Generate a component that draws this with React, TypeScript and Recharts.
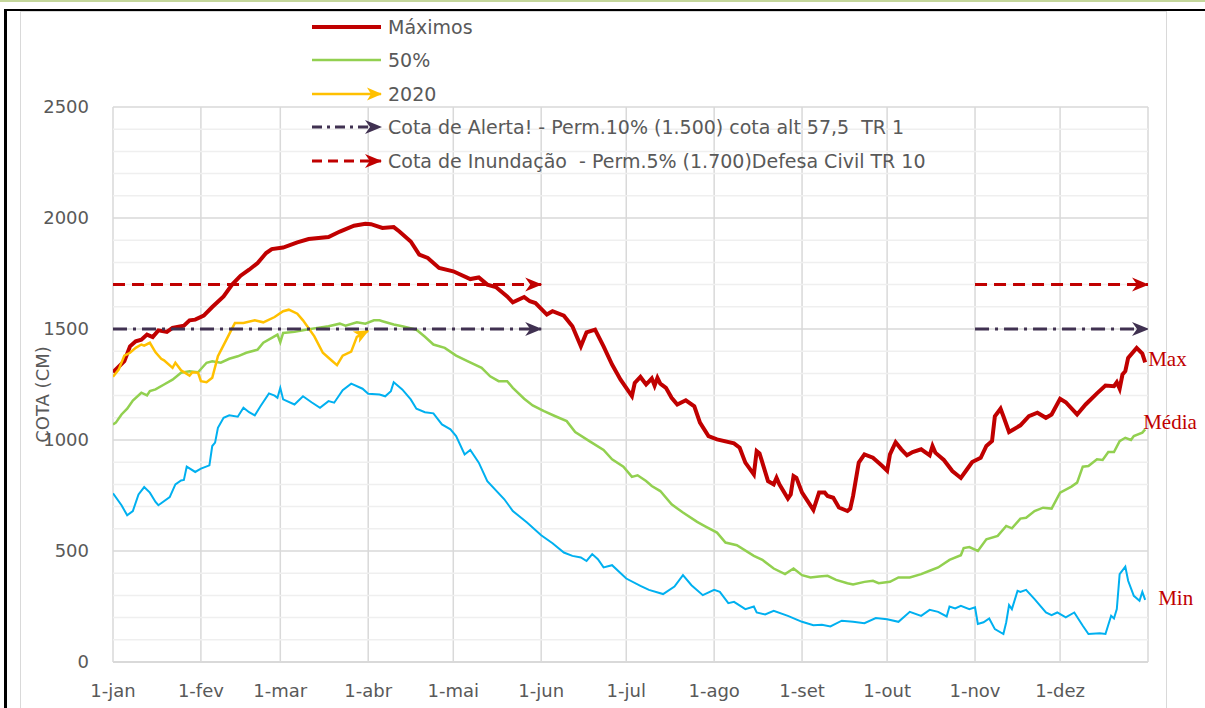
import React from 'react';
import { LineChart, Line, XAxis, YAxis, CartesianGrid, ReferenceLine } from 'recharts';

// ---------- axis ticks ----------
const monthTicks = [1, 32, 60, 91, 121, 152, 182, 213, 244, 274, 305, 335, 366];
const monthLabels = ['1-jan', '1-fev', '1-mar', '1-abr', '1-mai', '1-jun', '1-jul', '1-ago', '1-set', '1-out', '1-nov', '1-dez', ''];
const yTicks = [0, 500, 1000, 1500, 2000, 2500];
const minorYTicks = [100, 200, 300, 400, 600, 700, 800, 900, 1100, 1200, 1300, 1400, 1600, 1700, 1800, 1900, 2100, 2200, 2300, 2400];

// ---------- series (day of year, cota cm) ----------
const maximos: [number, number][] = [
  [1, 1305], [3, 1330], [5, 1355], [7, 1422], [9, 1445], [11, 1452], [13, 1475], [15, 1464], [17, 1494], [20, 1487],
  [22, 1505], [26, 1515], [28, 1539], [30, 1542], [33, 1560], [36, 1599], [40, 1647], [43, 1700], [46, 1740], [49, 1767],
  [52, 1797], [55, 1842], [57, 1860], [61, 1867], [66, 1890], [70, 1905], [77, 1914], [81, 1939], [86, 1965], [90, 1974],
  [92, 1972], [96, 1955], [100, 1959], [102, 1939], [106, 1894], [109, 1835], [112, 1820], [116, 1775], [121, 1760], [127, 1725],
  [130, 1732], [133, 1700], [136, 1689], [140, 1647], [142, 1620], [146, 1644], [148, 1625], [150, 1617], [154, 1565], [156, 1580],
  [160, 1560], [163, 1512], [166, 1422], [168, 1485], [171, 1497], [174, 1422], [177, 1340], [180, 1272], [184, 1198], [185, 1257],
  [187, 1284], [189, 1250], [191, 1277], [192, 1245], [193, 1280], [194, 1254], [196, 1235], [198, 1190], [200, 1160], [203, 1179],
  [206, 1152], [208, 1078], [211, 1018], [214, 1003], [220, 985], [222, 965], [224, 898], [227, 845], [228, 950], [229, 940],
  [232, 815], [234, 800], [235, 830], [236, 800], [239, 736], [240, 755], [241, 838], [242, 830], [244, 763], [248, 685],
  [250, 763], [252, 763], [253, 748], [255, 740], [257, 696], [260, 680], [261, 691], [262, 748], [264, 898], [266, 935],
  [269, 920], [272, 886], [274, 862], [275, 935], [277, 990], [279, 958], [281, 931], [283, 946], [286, 958], [289, 931],
  [290, 973], [291, 943], [294, 910], [297, 860], [300, 829], [302, 865], [304, 901], [307, 920], [309, 973], [311, 995],
  [312, 1107], [314, 1141], [315, 1107], [317, 1036], [319, 1051], [321, 1066], [324, 1107], [327, 1123], [330, 1100], [332, 1115],
  [335, 1186], [337, 1170], [341, 1115], [344, 1160], [348, 1210], [351, 1245], [354, 1242], [355, 1260], [356, 1231], [357, 1295],
  [358, 1310], [359, 1370], [362, 1415], [364, 1389], [365, 1350],
];

const mediana: [number, number][] = [
  [1, 1070], [2, 1078], [4, 1115], [6, 1141], [8, 1178], [11, 1213], [13, 1201], [14, 1220], [16, 1228], [19, 1250],
  [22, 1272], [25, 1303], [28, 1310], [31, 1305], [34, 1348], [36, 1355], [39, 1348], [42, 1366], [45, 1377], [48, 1393],
  [52, 1407], [54, 1438], [57, 1460], [59, 1475], [60, 1440], [61, 1482], [65, 1487], [69, 1497], [73, 1505], [77, 1512],
  [81, 1524], [83, 1515], [87, 1530], [90, 1524], [93, 1539], [95, 1539], [96, 1535], [100, 1520], [103, 1512], [108, 1497],
  [111, 1465], [114, 1430], [118, 1415], [122, 1380], [126, 1355], [131, 1325], [134, 1287], [137, 1265], [140, 1265], [142, 1235],
  [146, 1186], [149, 1156], [153, 1130], [157, 1107], [161, 1085], [164, 1036], [169, 995], [174, 955], [177, 913], [181, 880],
  [184, 834], [186, 841], [189, 815], [191, 793], [194, 770], [198, 710], [202, 673], [207, 631], [210, 610], [214, 583],
  [217, 538], [221, 526], [227, 478], [230, 460], [234, 421], [238, 396], [241, 421], [244, 391], [247, 381], [250, 385],
  [253, 388], [256, 370], [260, 355], [262, 349], [266, 361], [269, 366], [271, 355], [275, 361], [278, 381], [282, 381],
  [286, 396], [289, 411], [292, 426], [296, 460], [300, 481], [301, 513], [303, 518], [306, 500], [309, 553], [313, 568],
  [316, 613], [318, 602], [321, 646], [323, 650], [326, 680], [329, 695], [332, 691], [335, 763], [339, 790], [341, 808],
  [343, 880], [345, 883], [348, 913], [350, 910], [352, 946], [354, 946], [356, 995], [358, 1010], [360, 1000], [361, 1018],
  [364, 1033], [365, 1048],
];

const minimos: [number, number][] = [
  [1, 760], [4, 706], [6, 661], [8, 680], [10, 755], [12, 788], [14, 763], [16, 721], [17, 706], [21, 743],
  [23, 800], [25, 818], [26, 820], [27, 880], [30, 856], [32, 871], [35, 886], [36, 973], [37, 988], [38, 1055],
  [40, 1100], [42, 1111], [45, 1105], [47, 1145], [49, 1125], [51, 1111], [53, 1152], [56, 1210], [58, 1200], [59, 1190],
  [60, 1235], [61, 1183], [65, 1160], [68, 1197], [71, 1170], [74, 1145], [77, 1175], [79, 1168], [82, 1224], [85, 1254],
  [89, 1231], [91, 1208], [95, 1205], [97, 1197], [99, 1220], [100, 1260], [103, 1228], [106, 1183], [108, 1141], [111, 1125],
  [114, 1120], [117, 1070], [120, 1048], [122, 1018], [125, 935], [127, 955], [130, 898], [133, 815], [139, 733], [142, 680],
  [147, 628], [152, 571], [156, 535], [160, 493], [163, 478], [166, 471], [168, 455], [170, 486], [172, 463], [174, 426],
  [177, 436], [182, 376], [187, 343], [190, 325], [195, 306], [199, 340], [202, 391], [205, 346], [209, 301], [213, 325],
  [215, 316], [218, 265], [220, 271], [224, 238], [227, 250], [228, 223], [231, 214], [234, 231], [239, 208], [244, 181],
  [248, 166], [251, 168], [254, 160], [258, 186], [262, 181], [266, 175], [270, 198], [274, 193], [278, 181], [282, 226],
  [286, 208], [289, 235], [292, 226], [295, 205], [296, 250], [298, 241], [300, 253], [303, 238], [305, 246], [306, 171],
  [308, 179], [310, 196], [312, 148], [315, 126], [316, 179], [317, 256], [318, 238], [320, 321], [321, 316], [323, 325],
  [326, 283], [330, 223], [332, 211], [334, 223], [337, 201], [340, 223], [343, 163], [345, 126], [349, 129], [351, 126],
  [353, 208], [354, 196], [355, 238], [356, 396], [358, 430], [359, 366], [361, 298], [363, 276], [364, 316], [365, 280],
];

const ano2020: [number, number][] = [
  [1, 1285], [3, 1317], [5, 1380], [7, 1393], [9, 1415], [11, 1430], [12, 1425], [14, 1438], [16, 1395], [18, 1366],
  [19, 1359], [22, 1325], [23, 1348], [25, 1314], [28, 1290], [29, 1305], [31, 1303], [32, 1265], [34, 1260], [36, 1280],
  [38, 1377], [41, 1452], [44, 1527], [47, 1527], [51, 1539], [54, 1530], [58, 1554], [61, 1580], [63, 1587], [66, 1569],
  [68, 1539], [72, 1467], [75, 1393], [78, 1359], [80, 1337], [82, 1380], [85, 1398], [87, 1465], [91, 1492],
];

const cotaAlerta = 1500;
const cotaInundacao = 1700;
const thresholdSpans: [number, number][] = [[1, 152], [305, 366]];

const legendLabels = [
  'Máximos',
  '50%',
  '2020',
  'Cota de Alerta! - Perm.10% (1.500) cota alt 57,5  TR 1',
  'Cota de Inundação  - Perm.5% (1.700)Defesa Civil TR 10',
];

const toPts = (arr: [number, number][]) => arr.map(([d, v]) => ({ d, v }));
const spanPts = (span: [number, number], v: number) => [{ d: span[0], v }, { d: span[1], v }];

const FONT = 'DejaVu Sans, sans-serif';
const RED = '#c00000';
const GREEN = '#92d050';
const YELLOW = '#ffc000';
const BLUE = '#00b0f0';
const PURPLE = '#403151';

const endLabel = (text: string, n: number, dx: number, dy: number) => (props: any) => {
  if (props.index !== n - 1) return null;
  return (
    <text key={text} x={props.x + dx} y={props.y + dy} fill={RED} fontFamily="Liberation Serif, serif" fontSize={21} dominantBaseline="middle">
      {text}
    </text>
  );
};

const Markers = () => (
  <svg width={0} height={0} style={{ position: 'absolute' }}>
    <defs>
      <marker id="arRed" markerWidth={17} markerHeight={14} refX={16} refY={7} orient="auto" markerUnits="userSpaceOnUse" overflow="visible">
        <path d="M0,0 L17,7 L0,14 L5,7 Z" fill={RED} />
      </marker>
      <marker id="arPurple" markerWidth={17} markerHeight={14} refX={16} refY={7} orient="auto" markerUnits="userSpaceOnUse" overflow="visible">
        <path d="M0,0 L17,7 L0,14 L5,7 Z" fill={PURPLE} />
      </marker>
      <marker id="arYellow" markerWidth={15} markerHeight={13} refX={14} refY={6.5} orient="auto" markerUnits="userSpaceOnUse" overflow="visible">
        <path d="M0,0 L15,6.5 L0,13 L4,6.5 Z" fill={YELLOW} />
      </marker>
    </defs>
  </svg>
);

const legendStyles = [
  { stroke: RED, width: 4, dash: undefined as string | undefined, marker: undefined as string | undefined },
  { stroke: GREEN, width: 2.5, dash: undefined, marker: undefined },
  { stroke: YELLOW, width: 2.5, dash: undefined, marker: 'url(#arYellow)' },
  { stroke: PURPLE, width: 3, dash: '10 5 3 5', marker: 'url(#arPurple)' },
  { stroke: RED, width: 3, dash: '10 6', marker: 'url(#arRed)' },
];

const LegendBox = () => (
  <div style={{ position: 'absolute', left: 305, top: 10, fontFamily: FONT, fontSize: 19, color: '#595959' }}>
    {legendLabels.map((lab, i) => (
      <div key={lab} style={{ height: 33.5, display: 'flex', alignItems: 'center', whiteSpace: 'pre' }}>
        <svg width={78} height={20} style={{ display: 'block' }}>
          <line x1={7} y1={10} x2={76} y2={10} stroke={legendStyles[i].stroke} strokeWidth={legendStyles[i].width}
            strokeDasharray={legendStyles[i].dash} markerEnd={legendStyles[i].marker} />
        </svg>
        <span style={{ marginLeft: 5 }}>{lab}</span>
      </div>
    ))}
  </div>
);

const YLabel = (props: any) => {
  const vb = props.viewBox;
  const x = vb.x + 44;
  const y = vb.y + vb.height / 2 + 10;
  return (
    <text x={x} y={y} transform={`rotate(-90, ${x}, ${y})`} textAnchor="middle" dominantBaseline="middle" fill="#595959" fontFamily={FONT} fontSize={18}>
      COTA (CM)
    </text>
  );
};

export default function App() {
  const maxData = toPts(maximos);
  const medData = toPts(mediana);
  const minData = toPts(minimos);
  const d2020 = toPts(ano2020);
  return (
    <div style={{ position: 'absolute', left: 0, top: 0, width: 1205, height: 708, overflow: 'hidden', background: '#fff' }}>
      <Markers />
      <div style={{ position: 'absolute', left: 0, top: 0, width: 1205, height: 2, background: '#c4d79b' }} />
      <div style={{ position: 'absolute', left: 4, top: 9, width: 1201, height: 2, background: '#000' }} />
      <div style={{ position: 'absolute', left: 4, top: 9, width: 3, height: 699, background: '#000' }} />
      <div style={{ position: 'absolute', left: 20, top: 11, width: 1145, height: 720, border: '1.5px solid #d9d9d9', background: '#fff' }} />
      <div style={{ position: 'absolute', left: 0, top: 0 }}>
        <LineChart width={1205} height={708} margin={{ top: 107, right: 57, bottom: 0, left: 0 }}>
          {minorYTicks.map((v) => (
            <ReferenceLine key={'m' + v} y={v} stroke="#efefef" strokeWidth={1.5} />
          ))}
          <CartesianGrid horizontal={false} vertical stroke="#d9d9d9" strokeWidth={1.5} />
          {yTicks.map((v) => (
            <ReferenceLine key={'M' + v} y={v} stroke="#d9d9d9" strokeWidth={v === 0 ? 2 : 1.5} />
          ))}
          <XAxis type="number" dataKey="d" domain={[1, 366]} ticks={monthTicks} allowDataOverflow
            tickFormatter={(v: number) => monthLabels[monthTicks.indexOf(v)]}
            axisLine={false} tickLine={false} tickSize={0} tickMargin={22} height={46} interval={0}
            tick={{ fill: '#595959', fontFamily: FONT, fontSize: 18 }} />
          <YAxis type="number" dataKey="v" domain={[0, 2500]} ticks={yTicks} width={113}
            axisLine={false} tickLine={false} tickSize={0} tickMargin={24}
            tick={{ fill: '#595959', fontFamily: FONT, fontSize: 18 }}
            label={<YLabel />} />
          <Line data={minData} dataKey="v" type="linear" stroke={BLUE} strokeWidth={2} dot={false} isAnimationActive={false}
            label={endLabel('Min', minData.length, 13, 0)} />
          <Line data={medData} dataKey="v" type="linear" stroke={GREEN} strokeWidth={2.5} dot={false} isAnimationActive={false}
            label={endLabel('Média', medData.length, -2, -5)} />
          <Line data={maxData} dataKey="v" type="linear" stroke={RED} strokeWidth={4} dot={false} isAnimationActive={false}
            label={endLabel('Max', maxData.length, 3, -1)} />
          <Line data={d2020} dataKey="v" type="linear" stroke={YELLOW} strokeWidth={2.5} dot={false} isAnimationActive={false}
            markerEnd="url(#arYellow)" />
          {thresholdSpans.map((s, i) => (
            <Line key={'a' + i} data={spanPts(s, cotaAlerta)} dataKey="v" type="linear" stroke={PURPLE} strokeWidth={3}
              strokeDasharray="14 6 3 6" dot={false} isAnimationActive={false} markerEnd="url(#arPurple)" />
          ))}
          {thresholdSpans.map((s, i) => (
            <Line key={'i' + i} data={spanPts(s, cotaInundacao)} dataKey="v" type="linear" stroke={RED} strokeWidth={3}
              strokeDasharray="12 7" dot={false} isAnimationActive={false} markerEnd="url(#arRed)" />
          ))}
        </LineChart>
      </div>
      <LegendBox />
    </div>
  );
}
